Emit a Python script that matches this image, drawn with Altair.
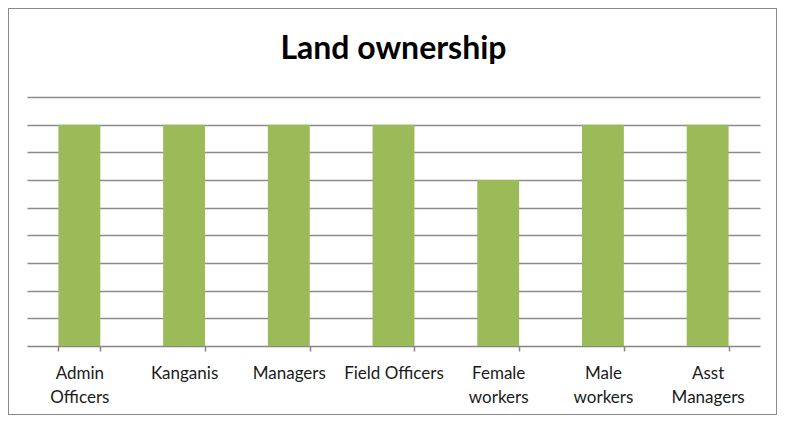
import altair as alt
import pandas as pd

title_text = "Land ownership"
categories = ["Admin|Officers", "Kanganis", "Managers", "Field Officers",
              "Female|workers", "Male|workers", "Asst|Managers"]
values = [8, 8, 8, 8, 6, 8, 8]
grid_values = [1, 2, 3, 4, 5, 6, 7, 8, 9]

df = pd.DataFrame({"category": categories, "value": values})

bars = alt.Chart(df).mark_bar(color="#9BBB59").encode(
    x=alt.X("category:N", sort=categories,
            scale=alt.Scale(paddingInner=0.6, paddingOuter=0.3),
            axis=alt.Axis(title=None, labelAngle=0,
                          labelExpr="split(datum.label, '|')",
                          tickBand="extent", tickSize=5, tickColor="#868686",
                          domainColor="#868686", domainWidth=1.5, tickWidth=1.5,
                          labelFont="Lato", labelFontSize=17, labelColor="#1a1a1a",
                          labelPadding=14, labelLineHeight=24, labelBaseline="top")),
    y=alt.Y("value:Q", scale=alt.Scale(domain=[0, 9], nice=False),
            axis=alt.Axis(title=None, labels=False, ticks=False, domain=False,
                          values=grid_values, gridColor="#8c8c8c", gridWidth=1.5))
)

border = alt.Chart(df).mark_rect(fillOpacity=0, stroke="#8a8a8a", strokeWidth=1).encode(
    x=alt.value(-18.5), x2=alt.value(749.5), y=alt.value(-88.5), y2=alt.value(317.5)
)

title = alt.Chart(pd.DataFrame({"t": [title_text]})).mark_text(
    font="Lato", fontSize=32, fontWeight="bold", color="black",
    align="center", baseline="alphabetic"
).encode(text="t:N", x=alt.value(366.5), y=alt.value(-38))

chart = alt.layer(border, bars, title).properties(
    width=733, height=249,
    autosize=alt.AutoSizeParams(type="none"),
    padding={"left": 19, "top": 89, "right": 17, "bottom": 69},
).configure_view(stroke=None)

chart.save("out.html", embed_options={"renderer": "svg", "actions": False})
